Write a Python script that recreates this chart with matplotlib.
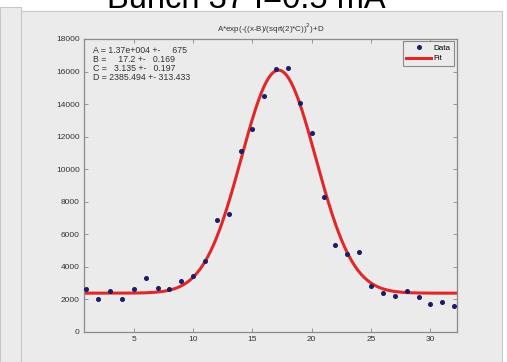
import numpy as np
import matplotlib
matplotlib.use("Agg")
import matplotlib.pyplot as plt
from matplotlib.patches import Rectangle

# measured bunch profile
x_data = list(range(1, 33))
y_data = [2620, 2020, 2490, 2020, 2650, 3330, 2690, 2650, 3120, 3450,
          4350, 6860, 7250, 11150, 12450, 14470, 16170, 16210, 14090, 12200,
          8290, 5330, 4820, 4920, 2840, 2370, 2240, 2490, 2180, 1730,
          1860, 1610]

# gaussian fit parameters (as printed on the chart)
A, B, C, D = 1.37e4, 17.2, 3.135, 2385.494
fit_text = ["A = 1.37e+004 +-     675",
            "B =     17.2 +-   0.169",
            "C =   3.135 +-   0.197",
            "D = 2385.494 +- 313.433"]

y_ticks = [0, 2000, 4000, 6000, 8000, 10000, 12000, 14000, 16000, 18000]
x_ticks = [5, 10, 15, 20, 25, 30]

BG = '#ebebeb'
GRID = '#8a8a8a'
TXT = '#333333'

plt.rcParams['font.family'] = ['Liberation Sans', 'DejaVu Sans']

fig = plt.figure(figsize=(5.07, 3.62), dpi=100)
fig.patch.set_facecolor('white')

# grey panels behind the plot (screenshot look)
fig.patches.append(Rectangle((0, 0), 21 / 507, 1 - 7 / 362, transform=fig.transFigure,
                             facecolor=BG, edgecolor='#c8c8c8', lw=0.8, zorder=-2))
fig.patches.append(Rectangle((21 / 507, 0), 481 / 507, 1 - 11 / 362, transform=fig.transFigure,
                             facecolor=BG, edgecolor='#c8c8c8', lw=0.8, zorder=-2))

fig.text(0.485, 1 - 8 / 362, "Bunch 37 I=0.5 mA", ha='center', va='baseline',
         fontsize=23.5, color='black')

ax = fig.add_axes([84 / 507, 30 / 362, 372.5 / 507, 293 / 362])
ax.set_facecolor(BG)

xf = np.linspace(0.8, 32.2, 400)
yf = A * np.exp(-((xf - B) / (np.sqrt(2) * C)) ** 2) + D
ax.plot(xf, yf, color='#e02828', lw=2.2, label='Fit', zorder=2)
ax.plot(x_data, y_data, ls='none', marker='o', ms=2.6, color='#1c1c6a',
        label='Data', zorder=3)

ax.set_xlim(0.8, 32.2)
ax.set_ylim(0, 18000)
ax.set_xticks(x_ticks)
ax.set_yticks(y_ticks)
ax.tick_params(direction='in', length=3, width=0.6, colors=GRID,
               labelcolor=TXT, labelsize=6, top=True, right=True, pad=3)
for sp in ax.spines.values():
    sp.set_color(GRID)
    sp.set_linewidth(0.9)

ax.set_title(r"A*exp(-((x-B)/(sqrt(2)*C))$^{2}$)+D", fontsize=5.8, color=TXT, pad=5)

ax.text(0.025, 0.975, "\n".join(fit_text), transform=ax.transAxes, ha='left', va='top',
        fontsize=6.3, color=TXT, linespacing=1.0)

handles, labels = ax.get_legend_handles_labels()
leg = ax.legend(handles[::-1], labels[::-1], loc='upper right', fontsize=5.8,
                frameon=True, fancybox=False, edgecolor=GRID, facecolor=BG,
                framealpha=1, borderaxespad=0.3, handlelength=3.0,
                labelspacing=0.3, borderpad=0.4, handletextpad=0.4)
leg.get_frame().set_linewidth(0.8)

fig.savefig('out.png', dpi=100)
